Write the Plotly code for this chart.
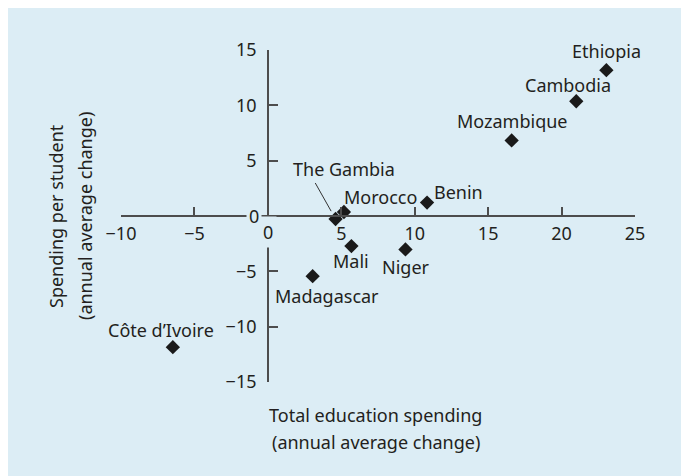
import plotly.graph_objects as go

# ---- data ----
countries = ["Ethiopia", "Cambodia", "Mozambique", "Benin", "Morocco",
             "The Gambia", "Mali", "Niger", "Madagascar", "Côte d’Ivoire"]
total_spending = [23.05, 21.0, 16.6, 10.84, 5.18, 4.61, 5.69, 9.37, 3.05, -6.47]
per_student = [13.18, 10.37, 6.83, 1.21, 0.36, -0.27, -2.72, -3.02, -5.44, -11.85]

x_tickvals = [-10, -5, 0, 5, 10, 15, 20, 25]
x_ticktext = ["−10", "−5", "", "5", "10", "15", "20", "25"]
y_tickvals = [-15, -10, -5, 0, 5, 10, 15]
y_ticktext = ["−15", "−10", "−5", "", "5", "10", "15"]

x_title_lines = ["Total education spending", "(annual average change)"]
y_title_lines = ["Spending per student", "(annual average change)"]

# ---- styling ----
PANEL = "#dcedf5"
TEXT = "#231f20"
AXIS = "#4d4d4d"
FONT = "Noto Sans"
FS = 18

# label placement: (xanchor, xshift, yshift)
placement = {
    "Ethiopia": ("center", 0, 19),
    "Cambodia": ("center", -8, 16),
    "Mozambique": ("center", 0, 19),
    "Benin": ("left", 5, 11),
    "Morocco": ("left", -2, 15),
    "The Gambia": ("center", 8, 50),
    "Mali": ("center", 0, -15),
    "Niger": ("center", 1, -18),
    "Madagascar": ("center", 14, -20),
    "Côte d’Ivoire": ("center", -12, 17),
}

fig = go.Figure()
fig.add_trace(go.Scatter(
    x=total_spending, y=per_student, mode="markers",
    marker=dict(symbol="diamond", size=11, color="#1a1a1a"),
    hoverinfo="text", text=countries, showlegend=False,
))

annotations = []
for name, xv, yv in zip(countries, total_spending, per_student):
    xa, xs, ys = placement[name]
    annotations.append(dict(
        x=xv, y=yv, xref="x", yref="y", text=name, showarrow=False,
        xanchor=xa, yanchor="middle", xshift=xs, yshift=ys,
        font=dict(family=FONT, size=FS, color=TEXT),
    ))

# leader line for The Gambia
gi = countries.index("The Gambia")
annotations.append(dict(
    x=total_spending[gi], y=per_student[gi], xref="x", yref="y",
    text=" ", font=dict(size=2), showarrow=True, arrowhead=0,
    arrowwidth=1, arrowcolor="#333333", ax=-22, ay=-39, standoff=9,
))

# zero labels with background boxes breaking the axis lines
annotations.append(dict(
    x=0, y=0, xref="x", yref="y", text="0", showarrow=False,
    xanchor="center", yanchor="middle", xshift=0, yshift=-16,
    bgcolor=PANEL, borderpad=3,
    font=dict(family=FONT, size=FS, color=TEXT),
))
annotations.append(dict(
    x=0, y=0, xref="x", yref="y", text="0", showarrow=False,
    xanchor="center", yanchor="middle", xshift=-14, yshift=0,
    bgcolor=PANEL, borderpad=2,
    font=dict(family=FONT, size=FS, color=TEXT),
))

# axis titles (one annotation per line for spacing control)
for line, yp in zip(x_title_lines, [-0.099, -0.181]):
    annotations.append(dict(
        x=0.496, y=yp, xref="paper", yref="paper", text=line,
        showarrow=False, xanchor="center", yanchor="middle",
        font=dict(family=FONT, size=FS, color=TEXT),
    ))
for line, xp in zip(y_title_lines, [-0.1265, -0.070]):
    annotations.append(dict(
        x=xp, y=0.5, xref="paper", yref="paper", text=line,
        showarrow=False, xanchor="center", yanchor="middle", textangle=-90,
        font=dict(family=FONT, size=FS, color=TEXT),
    ))

fig.update_layout(
    width=689, height=476,
    margin=dict(l=113, r=62, t=42, b=102),
    paper_bgcolor=PANEL,
    plot_bgcolor=PANEL,
    font=dict(family=FONT, size=FS, color=TEXT),
    annotations=annotations,
    xaxis=dict(
        range=[-10, 25], anchor="free", position=0.5,
        tickvals=x_tickvals, ticktext=x_ticktext,
        ticks="inside", ticklen=8, tickwidth=1.5, tickcolor=AXIS,
        showline=True, linecolor=AXIS, linewidth=1.5,
        showgrid=False, zeroline=False, ticklabelstandoff=2,
        automargin=False,
        tickfont=dict(family=FONT, size=FS, color=TEXT),
    ),
    yaxis=dict(
        range=[-15, 15], anchor="free", position=10 / 35,
        tickvals=y_tickvals, ticktext=y_ticktext,
        ticks="inside", ticklen=9, tickwidth=1.5, tickcolor=AXIS,
        showline=True, linecolor=AXIS, linewidth=1.5,
        showgrid=False, zeroline=False, ticklabelstandoff=7,
        automargin=False,
        tickfont=dict(family=FONT, size=FS, color=TEXT),
    ),
)

fig.write_html("out.html")
